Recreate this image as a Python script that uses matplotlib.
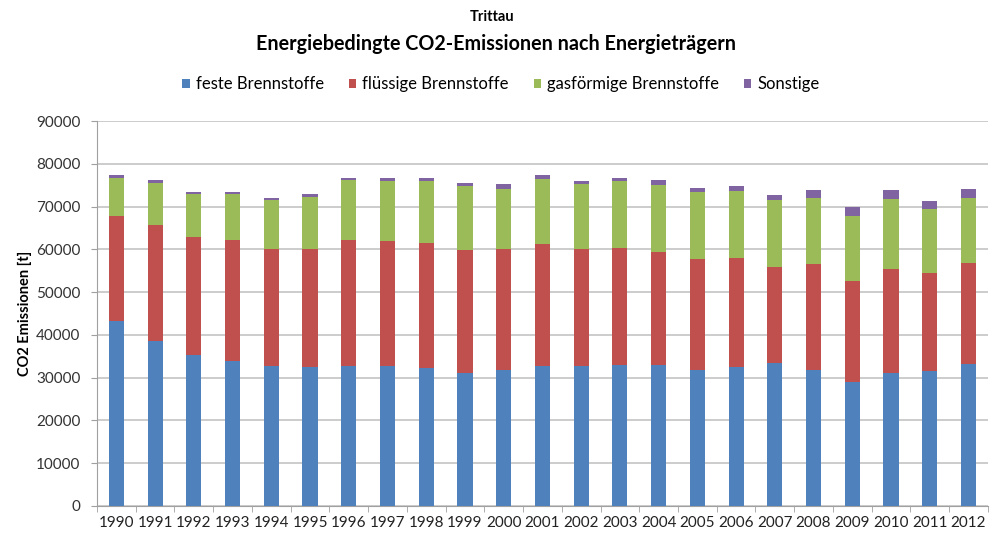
import matplotlib.pyplot as plt
import numpy as np

plt.rcParams['font.family'] = ['Lato', 'DejaVu Sans']

years = [str(y) for y in range(1990, 2013)]

# cumulative tops (t)
feste_top = [43300, 38500, 35400, 33900, 32800, 32500, 32800, 32700, 32300, 31200,
             31900, 32800, 32700, 33000, 33000, 31900, 32500, 33400, 31700, 29100,
             31100, 31500, 33300]
fluessig_top = [67700, 65600, 63000, 62300, 60200, 60200, 62200, 62000, 61600, 59800,
                60000, 61200, 60000, 60400, 59400, 57800, 58000, 55900, 56500, 52600,
                55300, 54500, 56700]
gas_top = [76800, 75600, 72900, 72900, 71600, 72300, 76200, 76000, 76000, 74700,
           74200, 76400, 75200, 76000, 75000, 73400, 73700, 71600, 72100, 67800,
           71700, 69400, 71900]
sonst_top = [77400, 76200, 73400, 73500, 71900, 72900, 76800, 76600, 76600, 75400,
             75300, 77300, 76000, 76800, 76200, 74400, 74800, 72700, 73800, 69800,
             73800, 71400, 74100]

feste = np.array(feste_top)
fluessig = np.array(fluessig_top) - np.array(feste_top)
gas = np.array(gas_top) - np.array(fluessig_top)
sonstige = np.array(sonst_top) - np.array(gas_top)

series = [
    ('feste Brennstoffe', feste, '#4F81BD'),
    ('flüssige Brennstoffe', fluessig, '#C0504D'),
    ('gasförmige Brennstoffe', gas, '#9BBB59'),
    ('Sonstige', sonstige, '#8064A2'),
]

fig = plt.figure(figsize=(9.92, 5.38), dpi=100)
ax = fig.add_axes([0.0978, 0.0595, 0.898, 0.7155])

x = np.arange(len(years))
bottom = np.zeros(len(years))
for label, vals, color in series:
    ax.bar(x, vals, 0.39, bottom=bottom, color=color, label=label, zorder=3)
    bottom = bottom + vals

ax.set_xlim(-0.5, len(years) - 0.5)
ax.set_ylim(0, 90000)
ax.set_yticks(range(0, 90001, 10000))
ax.yaxis.grid(True, color='#c4c4c4', linewidth=1.2, zorder=0)
ax.set_xticks(x)
ax.set_xticklabels(years)
ax.set_xticks(np.arange(-0.5, len(years), 1), minor=True)
ax.tick_params(axis='x', which='major', length=0, pad=7, labelsize=11, labelcolor='#222222')
ax.tick_params(axis='x', which='minor', length=4, color='#a0a0a0')
ax.tick_params(axis='y', length=4, color='#a0a0a0', labelsize=11, labelcolor='#333333', pad=8)

for side in ['top', 'right']:
    ax.spines[side].set_visible(False)
ax.spines['left'].set_color('#a0a0a0')
ax.spines['bottom'].set_color('#a0a0a0')

ax.set_ylabel('CO2 Emissionen [t]', fontsize=10.5, fontweight='bold', labelpad=3)

fig.text(0.496, 0.968, 'Trittau', ha='center', va='center', fontsize=10.5, fontweight='bold')
fig.text(0.5, 0.918, 'Energiebedingte CO2-Emissionen nach Energieträgern', ha='center',
         va='center', fontsize=14.2, fontweight='bold')

handles, labels = ax.get_legend_handles_labels()
fig.legend(handles, labels, loc='center', bbox_to_anchor=(0.505, 0.843), ncol=4,
           frameon=False, fontsize=12, handlelength=0.45, handleheight=0.45,
           handletextpad=0.35, columnspacing=1.5)

fig.savefig('out.png', dpi=100)
